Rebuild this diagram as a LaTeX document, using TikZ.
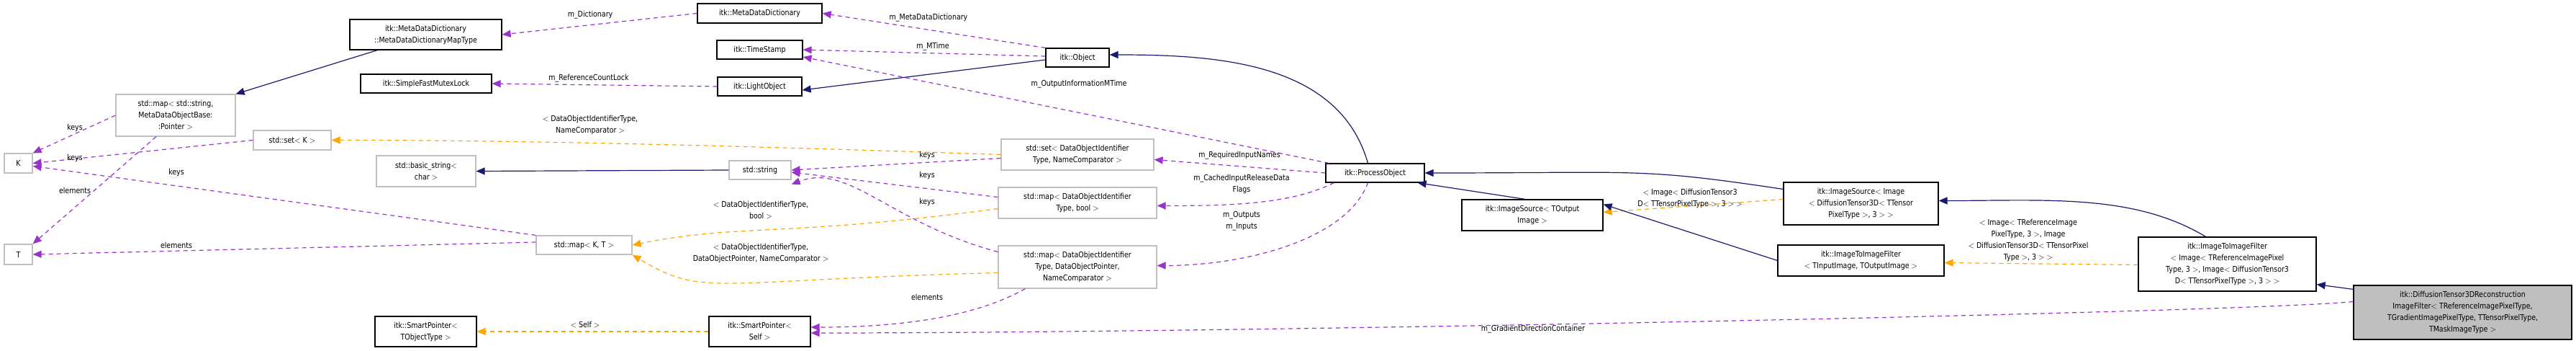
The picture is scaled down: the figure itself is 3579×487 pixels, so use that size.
\documentclass[tikz,border=0pt]{standalone}
\usepackage{fontspec}
\setmainfont{DejaVu Sans}[FakeStretch=0.86]
\usetikzlibrary{arrows.meta}
\definecolor{navy}{HTML}{191970}
\definecolor{purp}{HTML}{9A32CD}
\definecolor{orng}{HTML}{FFA500}
\definecolor{gbord}{HTML}{BFBFBF}
\begin{document}
\begin{tikzpicture}[x=1pt,y=-1pt,
  every node/.style={font=\fontsize{11}{16}\selectfont, inner sep=0pt},
  cls/.style={draw=black, line width=1.2pt, fill=white, align=center},
  ext/.style={draw=gbord, line width=1.2pt, fill=white, align=center},
  inh/.style={draw=navy, line width=1.2pt, -{Triangle[length=12pt,width=10pt]}},
  use/.style={draw=purp, line width=1.2pt, dash pattern=on 6pt off 5pt, -{Triangle[length=12pt,width=10pt]}},
  tpl/.style={draw=orng, line width=1.2pt, dash pattern=on 6pt off 5pt, -{Triangle[length=12pt,width=10pt]}},
  lbl/.style={align=center}]
\useasboundingbox (0,0) rectangle (3579,487);
% nodes
\node[cls, minimum width=211, minimum height=42] (mddmap) at (591.5,48) {itk::MetaDataDictionary\\::MetaDataDictionaryMapType};
\node[cls, minimum width=182, minimum height=26] (sfml) at (592,116) {itk::SimpleFastMutexLock};
\node[ext, minimum width=166, minimum height=58] (mapstr) at (244,160) {std::map$<$ std::string,\\MetaDataObjectBase:\\:Pointer $>$};
\node[ext, minimum width=108, minimum height=27] (setK) at (406,194.5) {std::set$<$ K $>$};
\node[ext, minimum width=39, minimum height=27] (K) at (25.5,226.5) {K};
\node[ext, minimum width=39, minimum height=28] (T) at (25.5,353) {T};
\node[ext, minimum width=138, minimum height=43] (bstr) at (592,237.5) {std::basic\_string$<$\\char $>$};
\node[ext, minimum width=133, minimum height=26] (mapKT) at (811.5,340) {std::map$<$ K, T $>$};
\node[cls, minimum width=141, minimum height=42] (spT) at (591.5,460) {itk::SmartPointer$<$\\TObjectType $>$};
\node[cls, minimum width=173, minimum height=27] (mdd) at (1055.5,18.5) {itk::MetaDataDictionary};
\node[cls, minimum width=119, minimum height=26] (ts) at (1055.5,69) {itk::TimeStamp};
\node[cls, minimum width=117, minimum height=26] (lo) at (1055.5,120) {itk::LightObject};
\node[cls, minimum width=88, minimum height=26] (obj) at (1497,80) {itk::Object};
\node[ext, minimum width=212, minimum height=43] (setD) at (1497,214.5) {std::set$<$ DataObjectIdentifier\\Type, NameComparator $>$};
\node[ext, minimum width=86, minimum height=26] (str) at (1056,236) {std::string};
\node[ext, minimum width=220, minimum height=43] (mapB) at (1497,281.5) {std::map$<$ DataObjectIdentifier\\Type, bool $>$};
\node[ext, minimum width=220, minimum height=59] (mapP) at (1497,370.5) {std::map$<$ DataObjectIdentifier\\Type, DataObjectPointer,\\NameComparator $>$};
\node[cls, minimum width=141, minimum height=42] (spS) at (1055.5,460) {itk::SmartPointer$<$\\Self $>$};
\node[cls, minimum width=137, minimum height=26] (po) at (1910.5,240) {itk::ProcessObject};
\node[cls, minimum width=196, minimum height=43] (isT) at (2129,298.5) {itk::ImageSource$<$ TOutput\\Image $>$};
\node[cls, minimum width=215, minimum height=59] (isI) at (2585.5,282.5) {itk::ImageSource$<$ Image\\$<$ DiffusionTensor3D$<$ TTensor\\PixelType $>$, 3 $>$ $>$};
\node[cls, minimum width=231, minimum height=43] (iifT) at (2585.5,361.5) {itk::ImageToImageFilter\\$<$ TInputImage, TOutputImage $>$};
\node[cls, minimum width=247, minimum height=75] (iifI) at (3094.5,366.5) {itk::ImageToImageFilter\\$<$ Image$<$ TReferenceImagePixel\\Type, 3 $>$, Image$<$ DiffusionTensor3\\D$<$ TTensorPixelType $>$, 3 $>$ $>$};
\node[cls, fill=gbord, minimum width=303, minimum height=75] (dt) at (3421.5,433.5) {itk::DiffusionTensor3DReconstruction\\ImageFilter$<$ TReferenceImagePixelType,\\TGradientImagePixelType, TTensorPixelType,\\TMaskImageType $>$};
% edges
\draw[use] (mdd.west) -- (mddmap.east);
\draw[use] (lo.west) -- (sfml.east);
\draw[inh] ([xshift=39]mddmap.south west) -- (mapstr.north east);
\draw[use] (mapstr.west) -- (K.north east);
\draw[use] ([xshift=-27]mapstr.south) -- (T.north east);
\draw[use] (setK.west) -- (K.east);
\draw[use] (mapKT.north west) -- ([yshift=-4]K.east);
\draw[use] ([yshift=4]mapKT.west) -- (T.east);
\draw[tpl] (setD.west) .. controls +(-300,-10) and +(300,0) .. (setK.east);
\draw[tpl] ([yshift=-8]mapB.west) .. controls +(-300,40) and +(150,-30) .. (mapKT.east);
\draw[tpl] ([yshift=-8]mapP.west) .. controls +(-400,10) and +(100,60) .. (mapKT.south east);
\draw[inh] (str.west) -- (bstr.east);
\draw[use] ([yshift=-5]setD.west) -- (str.east);
\draw[use] ([yshift=8]mapB.west) -- ([yshift=-3]str.east);
\draw[use] ([yshift=21]mapP.west) .. controls +(-150,-40) and +(80,-30) .. ([yshift=-6]str.south east);
\draw[use] (obj.north west) -- (mdd.east);
\draw[use] ([yshift=2]obj.west) -- (ts.east);
\draw[use] ([xshift=5]po.north west) -- ([yshift=-10]ts.east);
\draw[inh] ([yshift=-3]obj.west) -- ([yshift=-5]lo.east);
\draw[inh] ([xshift=-10]po.north) .. controls +(-40,-140) and +(150,0) .. ([yshift=4]obj.east);
\draw[use] (po.west) -- ([yshift=-7]setD.east);
\draw[use] ([xshift=12]po.south west) .. controls +(-60,30) and +(100,0) .. ([yshift=-4]mapB.east);
\draw[use] ([xshift=-10]po.south) .. controls +(-30,80) and +(120,0) .. ([yshift=2]mapP.east);
\draw[use] ([xshift=38]mapP.south west) .. controls +(-80,45) and +(100,0) .. ([yshift=6]spS.east);
\draw[tpl] (spS.west) -- (spT.east);
\draw[use] ([yshift=15]dt.west) .. controls +(-150,15) and +(600,0) .. ([yshift=-2]spS.east);
\draw[inh] ([xshift=-10]isT.north) -- ([xshift=-10]po.south east);
\draw[inh] ([yshift=20]isI.west) .. controls +(-200,-30) and +(300,0) .. (po.east);
\draw[tpl] ([yshift=6]isI.west) -- ([yshift=4]isT.east);
\draw[inh] (iifT.west) -- ([yshift=15]isT.east);
\draw[inh] ([xshift=-30]iifI.north) .. controls +(-100,-60) and +(150,0) .. ([yshift=4]isI.east);
\draw[tpl] ([yshift=-1]iifI.west) -- ([yshift=-3]iifT.east);
\draw[inh] ([yshift=-6]dt.north west) -- ([yshift=10]iifI.south east);
% labels
\node[lbl] (l1) at (820,21) {m\_Dictionary};
\node[lbl] (l2) at (818,109) {m\_ReferenceCountLock};
\node[lbl] (l3) at (820,173) {$<$ DataObjectIdentifierType,\\NameComparator $>$};
\node[lbl] (l4) at (104,177) {keys};
\node[lbl] (l5) at (104,219) {keys};
\node[lbl] (l6) at (245,239) {keys};
\node[lbl] (l7) at (104,264) {elements};
\node[lbl] (l8) at (245,340) {elements};
\node[lbl] (l9) at (813,451) {$<$ Self $>$};
\node[lbl] (l10) at (1290,25) {m\_MetaDataDictionary};
\node[lbl] (l11) at (1296,65) {m\_MTime};
\node[lbl] (l12) at (1499,117) {m\_OutputInformationMTime};
\node[lbl] (l13) at (1288,215) {keys};
\node[lbl] (l14) at (1288,243) {keys};
\node[lbl] (l15) at (1288,280) {keys};
\node[lbl] (l16) at (1722,216) {m\_RequiredInputNames};
\node[lbl] (l17) at (1725,255) {m\_CachedInputReleaseData\\Flags};
\node[lbl] (l18) at (1725,307) {m\_Outputs\\m\_Inputs};
\node[lbl] (l19) at (1057,292) {$<$ DataObjectIdentifierType,\\bool $>$};
\node[lbl] (l20) at (1057,351) {$<$ DataObjectIdentifierType,\\DataObjectPointer, NameComparator $>$};
\node[lbl] (l21) at (1288,412) {elements};
\node[lbl] (l22) at (2348,275) {$<$ Image$<$ DiffusionTensor3\\D$<$ TTensorPixelType $>$, 3 $>$ $>$};
\node[lbl] (l23) at (2130,457) {m\_GradientDirectionContainer};
\node[lbl] (l24) at (2818,333) {$<$ Image$<$ TReferenceImage\\PixelType, 3 $>$, Image\\$<$ DiffusionTensor3D$<$ TTensorPixel\\Type $>$, 3 $>$ $>$};
\end{tikzpicture}
\end{document}
